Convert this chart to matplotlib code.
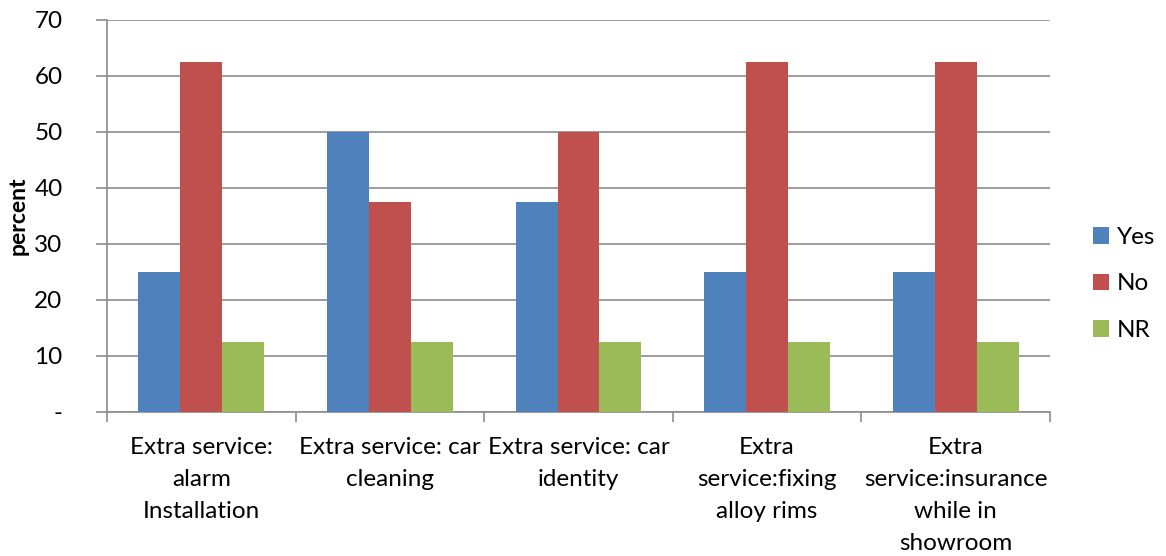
import matplotlib
matplotlib.use("Agg")
import matplotlib.pyplot as plt
import numpy as np
from matplotlib.patches import Patch

categories = [
    "Extra service:\nalarm\nInstallation",
    "Extra service: car\ncleaning",
    "Extra service: car\nidentity",
    "Extra\nservice:fixing\nalloy rims",
    "Extra\nservice:insurance\nwhile in\nshowroom",
]
yes_vals = [25, 50, 37.5, 25, 25]
no_vals = [62.5, 37.5, 50, 62.5, 62.5]
nr_vals = [12.5, 12.5, 12.5, 12.5, 12.5]
series_names = ["Yes", "No", "NR"]
colors = ["#4F81BD", "#C0504D", "#9BBB59"]
yticks = [0, 10, 20, 30, 40, 50, 60, 70]
ytick_labels = ["-", "10", "20", "30", "40", "50", "60", "70"]

plt.rcParams["font.family"] = ["Lato", "DejaVu Sans"]
FS = 17.5

fig = plt.figure(figsize=(11.66, 5.56), dpi=100)
ax = fig.add_axes([107 / 1166, 1 - 412 / 556, (1050 - 107) / 1166, (412 - 20) / 556])

x = np.arange(len(categories))
w = 0.222
for i, (vals, c) in enumerate(zip([yes_vals, no_vals, nr_vals], colors)):
    ax.bar(x + (i - 1) * w, vals, width=w, color=c, zorder=3)

ax.set_xlim(-0.5, len(categories) - 0.5)
ax.set_ylim(0, 70)
ax.set_yticks(yticks)
ax.set_yticklabels(ytick_labels, fontsize=FS)
ax.yaxis.grid(True, color="#8C8C8C", linewidth=1.2, zorder=0)
ax.tick_params(axis="y", length=8, width=1.2, color="#8C8C8C", pad=24)

ax.set_xticks(np.arange(len(categories) + 1) - 0.5)
ax.set_xticklabels([])
ax.set_xticks(x, minor=True)
ax.set_xticklabels(categories, minor=True, fontsize=FS, linespacing=1.64, va="top")
ax.tick_params(axis="x", which="major", length=7, width=1.2, color="#8C8C8C", direction="out")
ax.tick_params(axis="x", which="minor", length=0, pad=18)

for side in ["top", "right"]:
    ax.spines[side].set_visible(False)
for side in ["left", "bottom"]:
    ax.spines[side].set_color("#8C8C8C")
    ax.spines[side].set_linewidth(1.2)

ax.set_ylabel("percent", fontsize=16.5, fontweight="bold", labelpad=4)

handles = [Patch(facecolor=c, label=n) for c, n in zip(colors, series_names)]
fig.legend(handles=handles, loc="center left", bbox_to_anchor=(1071 / 1166, 1 - 284 / 556),
           frameon=False, fontsize=FS, handlelength=0.65, handleheight=0.65,
           handletextpad=0.35, labelspacing=1.05)

fig.savefig("out.png", dpi=100)
